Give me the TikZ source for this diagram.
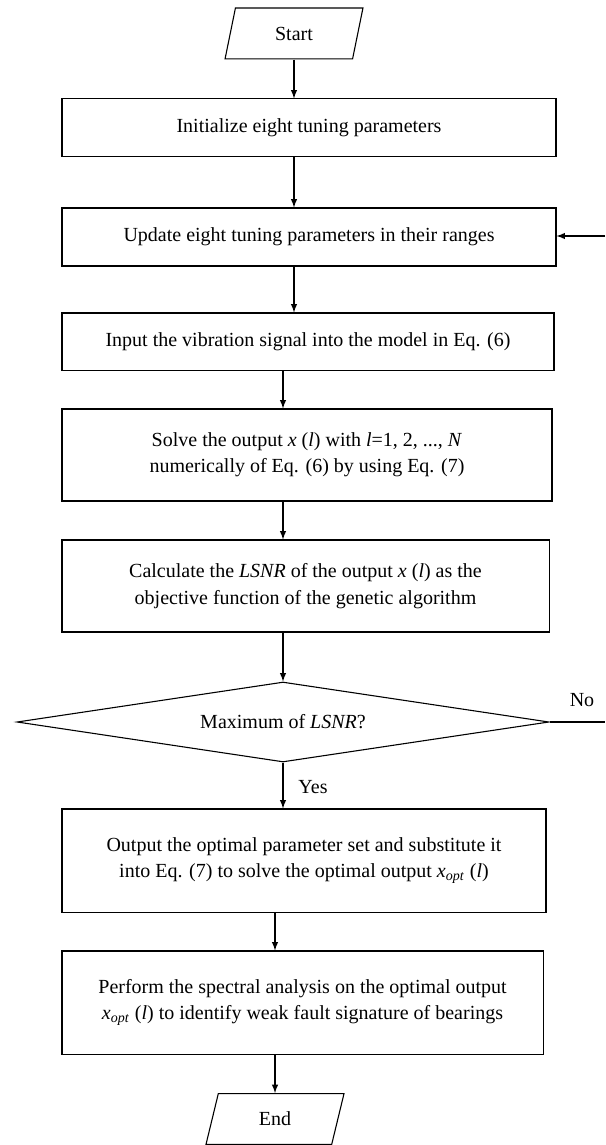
\documentclass[tikz,border=0pt]{standalone}
\usepackage{fontspec}
\setmainfont{Liberation Serif}
\usetikzlibrary{shapes.geometric}
\tikzset{
  step box/.style={
    draw,
    line width=0.6pt,
    align=center,
    inner sep=0pt,
    font=\fontsize{11}{14.5}\selectfont,
  },
  io box/.style={
    draw,
    line width=0.6pt,
    trapezium,
    trapezium left angle=76,
    trapezium right angle=104,
    trapezium stretches=true,
    minimum width=76pt,
    minimum height=28pt,
    inner sep=0pt,
    font=\fontsize{11}{14.5}\selectfont,
  },
  test box/.style={
    draw,
    line width=0.6pt,
    diamond,
    aspect=6.65,
    inner sep=0pt,
    font=\fontsize{11}{14.5}\selectfont,
  },
}

\begin{document}
\begin{tikzpicture}[x=0.55pt, y=-0.55pt, line width=0.6pt]
        \useasboundingbox (0,0) rectangle (605,1145);

        \node[io box] (start) at (294,33.5) {Start};
        \node[step box, minimum width=271.7pt, minimum height=31.4pt] (init)    at (309,127.5)  {Initialize eight tuning parameters};
        \node[step box, minimum width=271.7pt, minimum height=31.9pt] (update)  at (309,237)    {Update eight tuning parameters in their ranges};
        \node[step box, minimum width=270.6pt, minimum height=31.4pt] (input)   at (308,341.5)  {Input the vibration signal into the model in Eq. (6)};
        \node[step box, minimum width=269.5pt, minimum height=50.6pt] (solve)   at (307,455)
          {Solve the output \textit{x} (\textit{l}) with \textit{l}=1, 2, ..., \textit{N}\\numerically of Eq. (6) by using Eq. (7)};
        \node[step box, minimum width=267.9pt, minimum height=50.6pt] (calc)    at (305.5,586)
          {Calculate the \textit{LSNR} of the output \textit{x} (\textit{l}) as the\\objective function of the genetic algorithm};
        \node[test box, minimum width=292.6pt, minimum height=44pt]   (test)    at (283,722)    {Maximum of \textit{LSNR}?};
        \node[step box, minimum width=266.2pt, minimum height=56.7pt] (output)  at (304,860.5)
          {Output the optimal parameter set and substitute it\\into Eq. (7) to solve the optimal output \textit{x}\textsubscript{\textit{opt}} (\textit{l})};
        \node[step box, minimum width=264.6pt, minimum height=56.7pt] (perform) at (302.5,1002.5)
          {Perform the spectral analysis on the optimal output\\\textit{x}\textsubscript{\textit{opt}} (\textit{l}) to identify weak fault signature of bearings};
        \node[io box] (end) at (275,1119) {End};

        \node[font=\fontsize{11}{14.5}\selectfont] (yes) at (313,787) {Yes};
        \node[font=\fontsize{11}{14.5}\selectfont] (no)  at (582,700) {No};

        \coordinate (back)  at (605,236);
        \coordinate (noend) at (605,722);

        \draw[-latex] (start.south) -- (start.south |- init.north);
        \draw[-latex] (init.south -| start.south) -- (update.north -| start.south);
        \draw[-latex] (update.south -| start.south) -- (input.north -| start.south);
        \draw[-latex] (input.south -| test.north) -- (solve.north -| test.north);
        \draw[-latex] (solve.south -| test.north) -- (calc.north -| test.north);
        \draw[-latex] (calc.south -| test.north) -- (test.north);
        \draw[-latex] (test.south) -- (output.north -| test.south);
        \draw[-latex] (output.south -| end.north) -- (perform.north -| end.north);
        \draw[-latex] (perform.south -| end.north) -- (end.north);

        \draw (test.east) -- (noend);
        \path[-latex] (back) edge (update.east |- back);
      \end{tikzpicture}
\end{document}
